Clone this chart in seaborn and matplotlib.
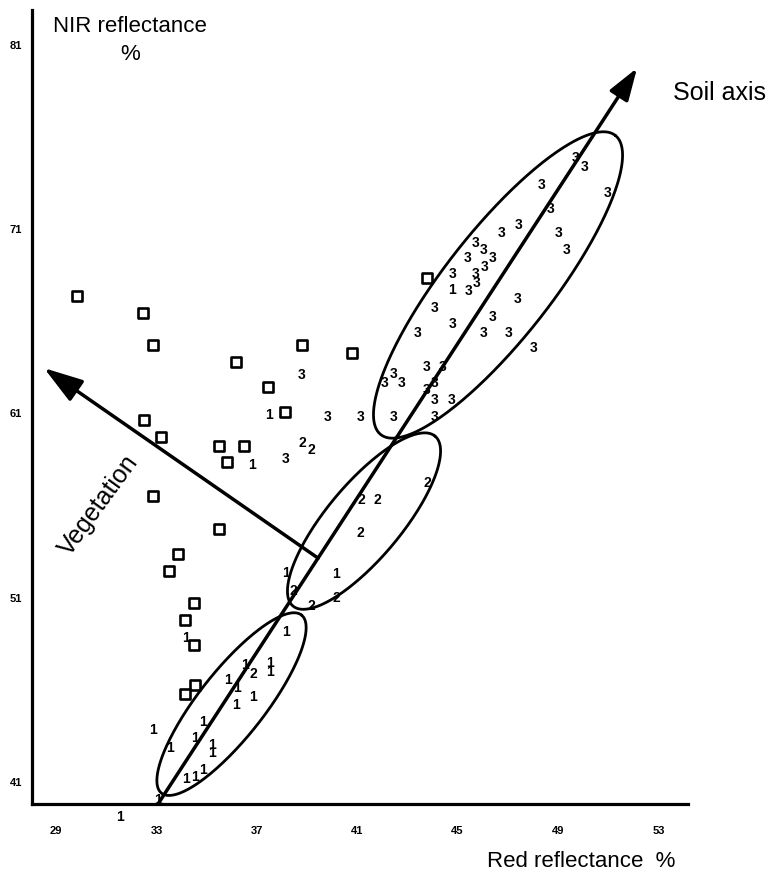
import numpy as np
import seaborn as sns
import matplotlib.pyplot as plt

# Open squares (vegetation samples)
sq_x = [29.84, 32.47, 32.86, 36.17, 38.80, 40.79, 37.45, 38.12, 32.51, 33.18, 35.49, 36.49,
        35.81, 32.86, 35.49, 33.86, 33.50, 34.50, 34.14, 34.50, 34.54, 34.14, 43.78]
sq_y = [67.37, 66.45, 64.71, 63.79, 64.71, 64.28, 62.43, 61.08, 60.64, 59.72, 59.23, 59.23,
        58.36, 56.52, 54.73, 53.37, 52.45, 50.71, 49.79, 48.43, 46.26, 45.77, 68.35]

# Soil classes drawn as digits
c1_x = [37.49, 36.81, 44.78, 40.16, 38.16, 38.16, 34.18, 36.53, 37.53, 37.53, 35.85, 36.21, 36.17,
        36.85, 34.86, 32.86, 33.54, 34.54, 35.22, 35.22, 34.18, 34.54, 34.86, 31.55, 33.06]
c1_y = [60.91, 58.20, 67.70, 52.29, 52.34, 49.14, 48.81, 47.35, 47.46, 46.97, 46.53, 46.10, 45.18,
        45.61, 44.26, 43.82, 42.84, 43.39, 43.01, 42.57, 41.16, 41.27, 41.65, 39.10, 40.02]

c2_x = [38.80, 39.16, 43.78, 41.15, 41.79, 41.11, 38.44, 39.16, 40.16, 36.85]
c2_y = [59.39, 59.01, 57.22, 56.30, 56.30, 54.51, 51.36, 50.55, 50.98, 46.86]

c3_x = [49.72, 50.04, 48.36, 50.99, 48.72, 47.41, 46.77, 49.04, 49.36, 45.73, 46.05, 46.41, 45.41, 46.09,
        44.78, 45.73, 45.77, 45.45, 47.37, 44.10, 46.41, 44.78, 43.42, 46.05, 47.05, 48.04, 43.78, 44.42,
        42.07, 42.43, 42.78, 43.78, 44.10, 44.10, 44.74, 44.10, 42.43, 41.15, 39.80, 38.80, 38.16]
c3_y = [74.86, 74.37, 73.39, 72.96, 72.09, 71.22, 70.79, 70.79, 69.87, 70.25, 69.87, 69.43, 69.43, 68.94,
        68.56, 68.56, 68.08, 67.64, 67.21, 66.72, 66.23, 65.85, 65.36, 65.36, 65.36, 64.55, 63.52, 63.52,
        62.65, 63.14, 62.65, 62.27, 62.65, 61.73, 61.73, 60.80, 60.80, 60.80, 60.80, 63.08, 58.53]

# Cluster ellipses: centre, half major vector, half minor vector (data units)
ell_cx = [35.99, 41.27, 46.61]
ell_cy = [45.23, 55.16, 67.97]
ell_ax = [2.79, 2.83, 4.67]
ell_ay = [4.83, 4.61, 8.12]
ell_bx = [1.03, 1.14, 1.68]
ell_by = [-1.11, -1.29, -1.78]

# Axes arrows (tail -> head)
soil_arrow = [(33.06, 39.81), (52.15, 79.74)]
veg_arrow = [(39.44, 53.15), (28.52, 63.46)]

x_ticks = [29, 33, 37, 41, 45, 49, 53]
y_ticks = [41, 51, 61, 71, 81]

sns.set_style("white")
plt.rcParams['font.family'] = ['Liberation Sans', 'DejaVu Sans']
plt.rcParams['text.color'] = 'black'
plt.rcParams['xtick.color'] = 'black'
plt.rcParams['ytick.color'] = 'black'

fig = plt.figure(figsize=(7.76, 8.72), dpi=100)
ax = fig.add_axes([32 / 776, 1 - 804 / 872, 656 / 776, 794 / 872])

sns.scatterplot(x=sq_x, y=sq_y, marker='s', s=50, color='white', edgecolor='black',
                linewidth=1.9, ax=ax, zorder=4)

for lab, xs, ys in [('1', c1_x, c1_y), ('2', c2_x, c2_y), ('3', c3_x, c3_y)]:
    for x, y in zip(xs, ys):
        ax.text(x, y, lab, ha='center', va='center', fontsize=10, fontweight='bold',
                color='black', clip_on=False, zorder=5)

t = np.linspace(0, 2 * np.pi, 300)
for cx, cy, axx, ayy, bx, by in zip(ell_cx, ell_cy, ell_ax, ell_ay, ell_bx, ell_by):
    ax.plot(cx + axx * np.cos(t) + bx * np.sin(t), cy + ayy * np.cos(t) + by * np.sin(t),
            color='black', lw=2.0, zorder=3)

ax.annotate('', xy=soil_arrow[1], xytext=soil_arrow[0], annotation_clip=False,
            arrowprops=dict(arrowstyle='-|>,head_length=0.9,head_width=0.3', lw=2.5,
                            color='black', mutation_scale=22, shrinkA=0, shrinkB=0))
ax.annotate('', xy=veg_arrow[1], xytext=veg_arrow[0], annotation_clip=False,
            arrowprops=dict(arrowstyle='-|>,head_length=1.0,head_width=0.32', lw=2.5,
                            color='black', mutation_scale=24, shrinkA=0, shrinkB=0))

ax.text(30.72, 56.0, 'Vegetation', rotation=54, rotation_mode='anchor', ha='center',
        va='center', fontsize=18, color='black')

ax.set_xlim(28.04, 54.18)
ax.set_ylim(39.81, 82.89)
ax.set_xticks(x_ticks)
ax.set_yticks(y_ticks)
ax.tick_params(axis='both', direction='in', length=8, width=1.8, labelsize=8, colors='black')
ax.tick_params(axis='x', pad=16)
ax.tick_params(axis='y', pad=7)
for lbl in ax.get_xticklabels() + ax.get_yticklabels():
    lbl.set_fontweight('bold')

sns.despine(ax=ax)
for side in ['left', 'bottom']:
    ax.spines[side].set_linewidth(2.3)
    ax.spines[side].set_color('black')

fig.text(0.168, 1 - 32 / 872, 'NIR reflectance', ha='center', va='baseline', fontsize=16, color='black')
fig.text(0.168, 1 - 60 / 872, '%', ha='center', va='baseline', fontsize=16, color='black')
fig.text(673 / 776, 1 - 100 / 872, 'Soil axis', ha='left', va='baseline', fontsize=18, color='black')
fig.text(675 / 776, 1 - 867 / 872, 'Red reflectance  %', ha='right', va='baseline', fontsize=16,
         color='black')

fig.savefig('out.png', dpi=100)
